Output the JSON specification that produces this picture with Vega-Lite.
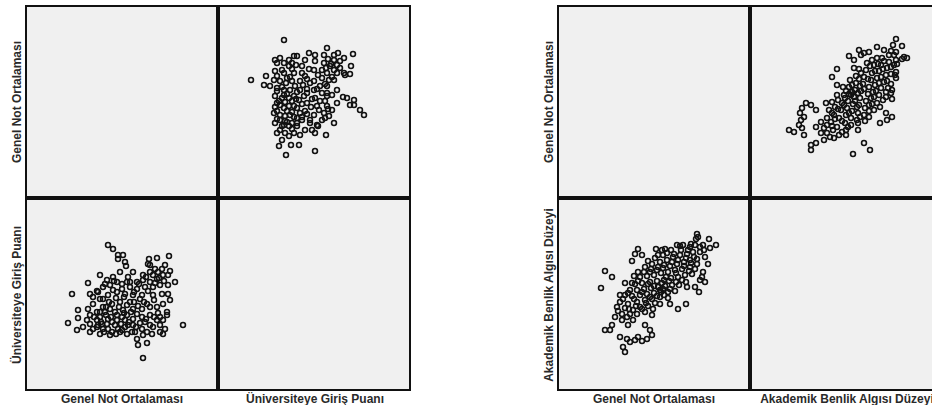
{
  "$schema": "https://vega.github.io/schema/vega-lite/v6.json",
  "padding": {"left": 9, "top": 5, "right": 0, "bottom": 0},
  "background": "white",
  "datasets": {
    "left": [
      {"gno":61,"ugp":440},{"gno":63.5,"ugp":432},{"gno":66,"ugp":420},{"gno":68.5,"ugp":420},{"gno":66,"ugp":412},{"gno":81.5,"ugp":412},{"gno":85.5,"ugp":414},{"gno":81,"ugp":402},{"gno":91.5,"ugp":418},{"gno":70,"ugp":398},
      {"gno":57,"ugp":380},{"gno":51,"ugp":364},{"gno":43,"ugp":342},{"gno":52,"ugp":342},{"gno":55.5,"ugp":348},{"gno":46,"ugp":310},{"gno":46,"ugp":294},{"gno":41,"ugp":284},{"gno":45.5,"ugp":270},{"gno":98.5,"ugp":280},
      {"gno":78.5,"ugp":214},{"gno":76,"ugp":240},{"gno":80.5,"ugp":244},{"gno":87,"ugp":266},{"gno":88.5,"ugp":290},{"gno":90.5,"ugp":306},{"gno":91,"ugp":342},{"gno":94.5,"ugp":366},{"gno":92,"ugp":388},{"gno":88,"ugp":392},
      {"gno":84.5,"ugp":392},{"gno":82,"ugp":400},{"gno":88.5,"ugp":380},{"gno":91,"ugp":380},{"gno":73.5,"ugp":386},{"gno":67,"ugp":386},{"gno":63.5,"ugp":376},{"gno":60.5,"ugp":370},{"gno":58.5,"ugp":356},{"gno":62,"ugp":360},
      {"gno":65.5,"ugp":366},{"gno":70.5,"ugp":366},{"gno":75.5,"ugp":366},{"gno":78.5,"ugp":370},{"gno":82,"ugp":366},{"gno":85.5,"ugp":372},{"gno":88,"ugp":342},{"gno":83.5,"ugp":340},{"gno":80.5,"ugp":322},{"gno":85.5,"ugp":316},
      {"gno":88.5,"ugp":322},{"gno":53.5,"ugp":322},{"gno":57,"ugp":332},{"gno":61,"ugp":340},{"gno":65.5,"ugp":346},{"gno":69.5,"ugp":342},{"gno":73.5,"ugp":340},{"gno":77,"ugp":332},{"gno":72,"ugp":326},{"gno":67,"ugp":326},
      {"gno":63,"ugp":322},{"gno":58.5,"ugp":316},{"gno":55.5,"ugp":306},{"gno":52,"ugp":300},{"gno":52,"ugp":282},{"gno":48.5,"ugp":276},{"gno":53.5,"ugp":272},{"gno":58.5,"ugp":272},{"gno":63,"ugp":266},{"gno":67,"ugp":266},
      {"gno":70.5,"ugp":262},{"gno":74.5,"ugp":266},{"gno":78,"ugp":272},{"gno":82,"ugp":280},{"gno":85.5,"ugp":290},{"gno":82,"ugp":300},{"gno":78,"ugp":296},{"gno":73.5,"ugp":292},{"gno":69.5,"ugp":290},{"gno":65.5,"ugp":290},
      {"gno":61,"ugp":292},{"gno":57,"ugp":296},{"gno":55.5,"ugp":290},{"gno":59.5,"ugp":306},{"gno":64.5,"ugp":306},{"gno":68.5,"ugp":310},{"gno":73.5,"ugp":312},{"gno":78,"ugp":312},{"gno":82,"ugp":316},{"gno":70.5,"ugp":320},
      {"gno":60.5,"ugp":282},{"gno":64.5,"ugp":280},{"gno":69.5,"ugp":276},{"gno":73.5,"ugp":280},{"gno":79.5,"ugp":286},{"gno":87,"ugp":296},{"gno":89.5,"ugp":272},{"gno":88.5,"ugp":262},{"gno":83,"ugp":262},{"gno":78.5,"ugp":260},
      {"gno":57,"ugp":262},{"gno":52,"ugp":266},{"gno":62,"ugp":260},{"gno":75.5,"ugp":252},{"gno":58.5,"ugp":332},{"gno":62,"ugp":312},{"gno":65.5,"ugp":300},{"gno":70.5,"ugp":300},{"gno":75.5,"ugp":302},{"gno":56,"ugp":346},
      {"gno":75.5,"ugp":352},{"gno":79.5,"ugp":356},{"gno":83.5,"ugp":356},{"gno":87,"ugp":360},{"gno":72,"ugp":356},{"gno":68,"ugp":352},{"gno":63.5,"ugp":350},{"gno":91,"ugp":360},{"gno":92,"ugp":330},{"gno":83.5,"ugp":380},
      {"gno":86,"ugp":386},{"gno":89.5,"ugp":400},{"gno":69.5,"ugp":406},{"gno":82,"ugp":386},{"gno":78.5,"ugp":380},{"gno":71,"ugp":376},{"gno":53.5,"ugp":336},{"gno":51,"ugp":312},{"gno":55.5,"ugp":276},{"gno":61,"ugp":272},
      {"gno":50.5,"ugp":290},{"gno":71,"ugp":280},{"gno":66,"ugp":272},{"gno":73,"ugp":266},{"gno":83.5,"ugp":276},{"gno":87,"ugp":280},{"gno":80.5,"ugp":266},{"gno":90.5,"ugp":300},{"gno":58,"ugp":282},{"gno":68,"ugp":296},
      {"gno":60,"ugp":300},{"gno":62.5,"ugp":296},{"gno":66.5,"ugp":316},{"gno":69,"ugp":304},{"gno":72.5,"ugp":306},{"gno":76,"ugp":318},{"gno":57.5,"ugp":286},{"gno":63,"ugp":286},{"gno":67.5,"ugp":282},{"gno":71.5,"ugp":286},
      {"gno":75,"ugp":276},{"gno":77,"ugp":284},{"gno":80,"ugp":292},{"gno":84,"ugp":296},{"gno":86,"ugp":304},{"gno":54,"ugp":296},{"gno":56,"ugp":280},{"gno":59,"ugp":266},{"gno":65,"ugp":262},{"gno":68,"ugp":270},
      {"gno":61.5,"ugp":326},{"gno":65,"ugp":334},{"gno":69,"ugp":336},{"gno":74,"ugp":346},{"gno":78,"ugp":340},{"gno":81,"ugp":348},{"gno":84.5,"ugp":364},{"gno":86.5,"ugp":374},{"gno":89,"ugp":368},{"gno":80,"ugp":376},
      {"gno":76.5,"ugp":362},{"gno":72,"ugp":366},{"gno":68,"ugp":362},{"gno":64,"ugp":368},{"gno":59.5,"ugp":362},{"gno":74,"ugp":326},{"gno":79,"ugp":326},{"gno":84,"ugp":330},{"gno":57,"ugp":306},{"gno":60,"ugp":316}
    ],
    "right": [
      {"gno":89.5,"abad":176},{"gno":90,"abad":173},{"gno":89,"abad":171},{"gno":95.5,"abad":171},{"gno":99,"abad":165},{"gno":92.5,"abad":165},{"gno":91,"abad":163},{"gno":88.5,"abad":165},{"gno":86,"abad":163},{"gno":79.5,"abad":165},
      {"gno":81,"abad":164},{"gno":82.5,"abad":165},{"gno":60,"abad":161},{"gno":58.5,"abad":156},{"gno":62,"abad":155},{"gno":57,"abad":149},{"gno":65,"abad":149},{"gno":69,"abad":161},{"gno":72,"abad":160},{"gno":73.5,"abad":161},
      {"gno":70,"abad":155},{"gno":72.5,"abad":155},{"gno":43.5,"abad":139},{"gno":47,"abad":133},{"gno":41.5,"abad":122},{"gno":53.5,"abad":127},{"gno":57,"abad":127},{"gno":60,"abad":138},{"gno":92.5,"abad":138},{"gno":92,"abad":133},
      {"gno":88.5,"abad":123},{"gno":84.5,"abad":123},{"gno":84,"abad":106},{"gno":80,"abad":101},{"gno":76,"abad":106},{"gno":67.5,"abad":101},{"gno":71,"abad":106},{"gno":62,"abad":101},{"gno":57.5,"abad":100},{"gno":52.5,"abad":111},
      {"gno":55,"abad":106},{"gno":52,"abad":96},{"gno":54.5,"abad":93},{"gno":57.5,"abad":90},{"gno":55,"abad":85},{"gno":47,"abad":85},{"gno":46,"abad":80},{"gno":43.5,"abad":80},{"gno":51,"abad":73},{"gno":54.5,"abad":71},
      {"gno":56,"abad":68},{"gno":58.5,"abad":70},{"gno":52.5,"abad":63},{"gno":53.5,"abad":58},{"gno":63.5,"abad":85},{"gno":66,"abad":80},{"gno":67,"abad":75},{"gno":64.5,"abad":71},{"gno":62,"abad":69},{"gno":60,"abad":73},
      {"gno":63.5,"abad":143},{"gno":67,"abad":146},{"gno":71,"abad":148},{"gno":74.5,"abad":150},{"gno":77.5,"abad":153},{"gno":81,"abad":155},{"gno":84.5,"abad":156},{"gno":87.5,"abad":158},{"gno":91,"abad":158},{"gno":66,"abad":138},
      {"gno":69.5,"abad":140},{"gno":72.5,"abad":142},{"gno":76,"abad":144},{"gno":79.5,"abad":146},{"gno":83,"abad":148},{"gno":86,"abad":150},{"gno":89.5,"abad":151},{"gno":61,"abad":133},{"gno":64.5,"abad":134},{"gno":68,"abad":135},
      {"gno":71.5,"abad":137},{"gno":75,"abad":138},{"gno":78.5,"abad":140},{"gno":82,"abad":141},{"gno":86,"abad":143},{"gno":89.5,"abad":146},{"gno":58.5,"abad":126},{"gno":62,"abad":127},{"gno":66,"abad":128},{"gno":69.5,"abad":129},
      {"gno":73,"abad":130},{"gno":76.5,"abad":132},{"gno":80,"abad":133},{"gno":83.5,"abad":135},{"gno":87,"abad":136},{"gno":91,"abad":130},{"gno":56,"abad":120},{"gno":59.5,"abad":120},{"gno":63,"abad":121},{"gno":66.5,"abad":122},
      {"gno":70,"abad":123},{"gno":73.5,"abad":124},{"gno":77,"abad":125},{"gno":80.5,"abad":125},{"gno":84,"abad":128},{"gno":53.5,"abad":115},{"gno":57,"abad":114},{"gno":61,"abad":115},{"gno":64.5,"abad":116},{"gno":68,"abad":117},
      {"gno":71.5,"abad":118},{"gno":75,"abad":118},{"gno":78.5,"abad":119},{"gno":51,"abad":108},{"gno":59.5,"abad":108},{"gno":63.5,"abad":110},{"gno":67,"abad":111},{"gno":71,"abad":113},{"gno":75,"abad":112},{"gno":49.5,"abad":103},
      {"gno":53.5,"abad":102},{"gno":61,"abad":103},{"gno":65,"abad":104},{"gno":48.5,"abad":93},{"gno":52,"abad":90},{"gno":56,"abad":96},{"gno":59.5,"abad":96},{"gno":63.5,"abad":98},{"gno":67,"abad":95},{"gno":71,"abad":120},
      {"gno":74,"abad":133},{"gno":68.5,"abad":152},{"gno":76.5,"abad":160},{"gno":85,"abad":160},{"gno":93.5,"abad":153},{"gno":95,"abad":146},{"gno":88.5,"abad":141},{"gno":90.5,"abad":118},{"gno":93.5,"abad":128},
      {"gno":65,"abad":126},{"gno":68,"abad":124},{"gno":72,"abad":127},{"gno":75.5,"abad":129},{"gno":79,"abad":137},{"gno":82,"abad":130},{"gno":85.5,"abad":139},{"gno":88,"abad":153},{"gno":84,"abad":152},{"gno":80,"abad":150},
      {"gno":77,"abad":148},{"gno":73,"abad":145},{"gno":70,"abad":143},{"gno":66.5,"abad":141},{"gno":63,"abad":138},{"gno":60,"abad":129},{"gno":62,"abad":118},{"gno":66,"abad":113},{"gno":69.5,"abad":114},{"gno":73,"abad":115},
      {"gno":76,"abad":121},{"gno":79,"abad":128},{"gno":55,"abad":117},{"gno":58,"abad":111},{"gno":55.5,"abad":101},{"gno":59,"abad":104},{"gno":64,"abad":107},{"gno":68.5,"abad":107},{"gno":72.5,"abad":121},{"gno":78,"abad":156},
      {"gno":74.5,"abad":157},{"gno":81.5,"abad":160},{"gno":86.5,"abad":166},{"gno":93,"abad":160},{"gno":96,"abad":162},{"gno":58,"abad":134},{"gno":50,"abad":99},{"gno":51,"abad":115},{"gno":83,"abad":144},{"gno":86.5,"abad":147}
    ]
  },
  "hconcat": [
    {
      "columns": 2,
      "spacing": 0,
      "concat": [
        {"width":191,"height":191,"data":{"name":"left"},"mark":{"type":"point","opacity":0},
         "encoding":{"x":{"field":"gno","type":"quantitative","scale":{"domain":[20,115.5],"nice":false,"zero":false},"axis":null},
                     "y":{"field":"gno","type":"quantitative","scale":{"domain":[20,115.5],"nice":false,"zero":false},"axis":{"title":"Genel Not Ortalaması"}}}},
        {"width":191,"height":191,"data":{"name":"left"},"mark":{"type":"point","filled":false,"color":"#111111","strokeWidth":1.6,"size":24,"opacity":1},
         "encoding":{"x":{"field":"ugp","type":"quantitative","scale":{"domain":[150,532],"nice":false,"zero":false},"axis":null},
                     "y":{"field":"gno","type":"quantitative","scale":{"domain":[20,115.5],"nice":false,"zero":false},"axis":null}}},
        {"width":191,"height":191,"data":{"name":"left"},"mark":{"type":"point","filled":false,"color":"#111111","strokeWidth":1.6,"size":24,"opacity":1},
         "encoding":{"x":{"field":"gno","type":"quantitative","scale":{"domain":[20,115.5],"nice":false,"zero":false},"axis":{"title":"Genel Not Ortalaması"}},
                     "y":{"field":"ugp","type":"quantitative","scale":{"domain":[150,532],"nice":false,"zero":false},"axis":{"title":"Üniversiteye Giriş Puanı"}}}},
        {"width":191,"height":191,"data":{"name":"left"},"mark":{"type":"point","opacity":0},
         "encoding":{"x":{"field":"ugp","type":"quantitative","scale":{"domain":[150,532],"nice":false,"zero":false},"axis":{"title":"Üniversiteye Giriş Puanı"}},
                     "y":{"field":"ugp","type":"quantitative","scale":{"domain":[150,532],"nice":false,"zero":false},"axis":null}}}
      ]
    },
    {
      "columns": 2,
      "spacing": 0,
      "concat": [
        {"width":191,"height":191,"data":{"name":"right"},"mark":{"type":"point","opacity":0},
         "encoding":{"x":{"field":"gno","type":"quantitative","scale":{"domain":[20,115.5],"nice":false,"zero":false},"axis":null},
                     "y":{"field":"gno","type":"quantitative","scale":{"domain":[20,115.5],"nice":false,"zero":false},"axis":{"title":"Genel Not Ortalaması"}}}},
        {"width":191,"height":191,"data":{"name":"right"},"mark":{"type":"point","filled":false,"color":"#111111","strokeWidth":1.6,"size":24,"opacity":1},
         "encoding":{"x":{"field":"abad","type":"quantitative","scale":{"domain":[20,211],"nice":false,"zero":false},"axis":null},
                     "y":{"field":"gno","type":"quantitative","scale":{"domain":[20,115.5],"nice":false,"zero":false},"axis":null}}},
        {"width":191,"height":191,"data":{"name":"right"},"mark":{"type":"point","filled":false,"color":"#111111","strokeWidth":1.6,"size":24,"opacity":1},
         "encoding":{"x":{"field":"gno","type":"quantitative","scale":{"domain":[20,115.5],"nice":false,"zero":false},"axis":{"title":"Genel Not Ortalaması"}},
                     "y":{"field":"abad","type":"quantitative","scale":{"domain":[20,211],"nice":false,"zero":false},"axis":{"title":"Akademik Benlik Algısı Düzeyi"}}}},
        {"width":191,"height":191,"data":{"name":"right"},"mark":{"type":"point","opacity":0},
         "encoding":{"x":{"field":"abad","type":"quantitative","scale":{"domain":[20,211],"nice":false,"zero":false},"axis":{"title":"Akademik Benlik Algısı Düzeyi"}},
                     "y":{"field":"abad","type":"quantitative","scale":{"domain":[20,211],"nice":false,"zero":false},"axis":null}}}
      ]
    }
  ],
  "spacing": 130,
  "config": {
    "view": {"fill": "#f0f0f0", "stroke": "#111111", "strokeWidth": 2},
    "axis": {"labels": false, "ticks": false, "domain": false, "grid": false, "minExtent": 0,
             "titleFont": "Liberation Sans", "titleFontSize": 12, "titleFontWeight": "bold", "titleColor": "#2a2a2a", "titlePadding": 3}
  }
}
